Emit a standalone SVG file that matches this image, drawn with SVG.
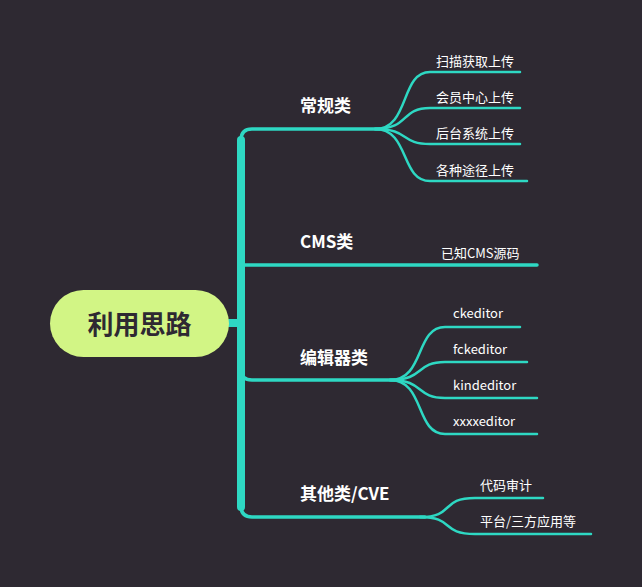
<svg xmlns="http://www.w3.org/2000/svg" width="642" height="587" viewBox="0 0 642 587">
<style>
.c{fill:none;stroke:#2ed8c3;stroke-linecap:round}
.b{stroke-width:3.5}
.l{stroke-width:2.5}
.t{font-family:"Noto Sans CJK SC","Noto Sans",sans-serif;fill:#fff}
.m{font-size:17px;font-weight:bold}
.s{font-size:13px}
</style>
<rect width="642" height="587" fill="#2e2932"/>
<g id="connectors">
<path class="c" d="M229,323 H241" style="stroke-width:8"/>
<path class="c" d="M241,140 V507" style="stroke-width:8"/>
<path class="c b" d="M241,140 Q241,129 252,129 H380"/>
<path class="c b" d="M241,265 H537"/>
<path class="c b" d="M241,370 Q241,380 252,380 H395"/>
<path class="c b" d="M241,506 Q241,517 252,517 H425"/>
<path class="c l" d="M375,129 C410,129 400,72 430,72 H520"/>
<path class="c l" d="M375,129 C410,129 400,108 430,108 H520"/>
<path class="c l" d="M375,129 C410,129 400,144 430,144 H520"/>
<path class="c l" d="M375,129 C410,129 400,181 430,181 H527"/>
<path class="c l" d="M390,380 C425,380 415,327 445,327 H520"/>
<path class="c l" d="M390,380 C425,380 415,362 445,362 H527"/>
<path class="c l" d="M390,380 C425,380 415,398 445,398 H537"/>
<path class="c l" d="M390,380 C425,380 415,434 445,434 H537"/>
<path class="c l" d="M420,517 C455,517 440,498 475,498 H543"/>
<path class="c l" d="M420,517 C455,517 440,534 475,534 H591"/>
</g>
<g id="root">
<rect x="50" y="290" width="179" height="67" rx="33.5" fill="#d2f585"/>
<text x="139.5" y="334" text-anchor="middle" font-family="Noto Sans CJK SC,sans-serif" font-weight="bold" font-size="26" fill="#2e2932">利用思路</text>
</g>
<g id="n1"><text class="t m" x="300" y="112">常规类</text></g>
<g id="n2"><text class="t m" x="300" y="248">CMS类</text></g>
<g id="n3"><text class="t m" x="300" y="364">编辑器类</text></g>
<g id="n4"><text class="t m" x="300" y="500">其他类/CVE</text></g>
<g id="l1"><text class="t s" x="436" y="66">扫描获取上传</text></g>
<g id="l2"><text class="t s" x="436" y="102">会员中心上传</text></g>
<g id="l3"><text class="t s" x="436" y="138">后台系统上传</text></g>
<g id="l4"><text class="t s" x="436" y="175">各种途径上传</text></g>
<g id="l5"><text class="t s" x="441" y="258">已知CMS源码</text></g>
<g id="l6"><text class="t s" x="453" y="318">ckeditor</text></g>
<g id="l7"><text class="t s" x="453" y="354">fckeditor</text></g>
<g id="l8"><text class="t s" x="453" y="390">kindeditor</text></g>
<g id="l9"><text class="t s" x="453" y="426">xxxxeditor</text></g>
<g id="l10"><text class="t s" x="480" y="490">代码审计</text></g>
<g id="l11"><text class="t s" x="480" y="526">平台/三方应用等</text></g>
</svg>
